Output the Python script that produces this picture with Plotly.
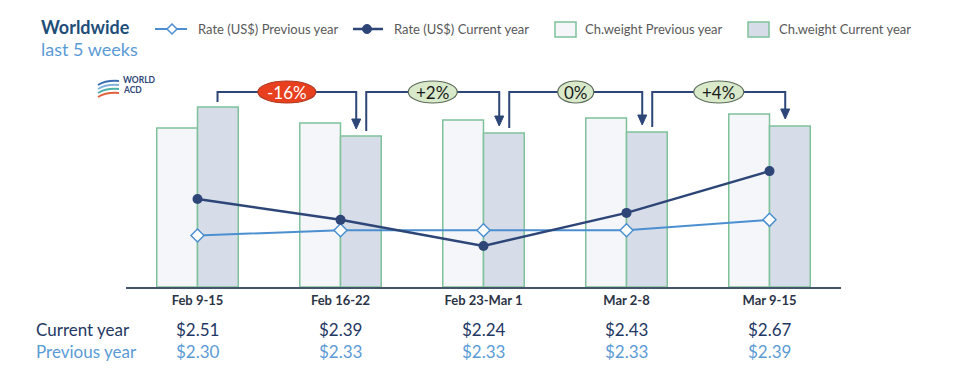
import plotly.graph_objects as go

# ---------------- data ----------------
weeks = ["Feb 9-15", "Feb 16-22", "Feb 23-Mar 1", "Mar 2-8", "Mar 9-15"]
weight_prev = [159, 164, 167, 169, 173]      # chargeable weight index, previous year
weight_cur = [180, 151, 154, 155, 161]       # chargeable weight index, current year
rate_cur = [2.51, 2.39, 2.24, 2.43, 2.67]    # US$ per kg, current year
rate_prev = [2.30, 2.33, 2.33, 2.33, 2.39]   # US$ per kg, previous year
wow_labels = ["-16%", "+2%", "0%", "+4%"]    # week-on-week change in ch.weight
series_names = ["Rate (US$) Previous year", "Rate (US$) Current year",
                "Ch.weight Previous year", "Ch.weight Current year"]

FONT = "Lato"
NAVY = "#2d4677"
LIGHTBLUE = "#4b8fd0"
GREEN_EDGE = "#7fc29a"
PREV_FILL = "#f4f6fa"
CUR_FILL = "#d6dde8"

OFF = 8                      # page body margin of the html page
W, H = 953 - OFF, 379 - OFF
X0, X1, Y0, Y1 = 126, 841, 70, 287   # plot area in screen pixels


def px(xp):
    return (xp - X0) / (X1 - X0)


def py(yp):
    return (Y1 - yp) / (Y1 - Y0)


xs = list(range(len(weeks)))

fig = go.Figure()

fig.add_trace(go.Scatter(
    x=xs, y=rate_prev, yaxis="y2", name=series_names[0],
    mode="lines+markers", line=dict(color=LIGHTBLUE, width=2),
    marker=dict(symbol="diamond", size=10, color="white",
                line=dict(color=LIGHTBLUE, width=1.5))))
fig.add_trace(go.Scatter(
    x=xs, y=rate_cur, yaxis="y2", name=series_names[1],
    mode="lines+markers", line=dict(color=NAVY, width=2.5),
    marker=dict(symbol="circle", size=10, color=NAVY)))
fig.add_trace(go.Bar(
    x=xs, y=weight_prev, name=series_names[2],
    marker=dict(color=PREV_FILL, line=dict(color=GREEN_EDGE, width=1.5))))
fig.add_trace(go.Bar(
    x=xs, y=weight_cur, name=series_names[3],
    marker=dict(color=CUR_FILL, line=dict(color=GREEN_EDGE, width=1.5))))

shapes = []
annotations = []

# ------------- week-on-week brackets -------------
level = max(weight_cur) + 15
ell_sizes = {"-16%": 58, "+2%": 49, "0%": 36, "+4%": 50}
for i, lab in enumerate(wow_labels):
    sx = i + (0.14 if i == 0 else 0.18)
    ex = i + 1 + 0.11
    sy = weight_cur[i] + 5
    tip = weight_cur[i + 1] + 7
    head = 10
    shapes.append(dict(
        type="path", xref="x", yref="y",
        path=f"M{sx},{sy} L{sx},{level} L{ex},{level} L{ex},{tip + head}",
        line=dict(color=NAVY, width=2)))
    hw = 4.5 / 143
    shapes.append(dict(
        type="path", xref="x", yref="y",
        path=f"M{ex - hw},{tip + head} L{ex + hw},{tip + head} L{ex},{tip} Z",
        fillcolor=NAVY, line=dict(color=NAVY, width=1)))
    cx = (sx + ex) / 2
    wpx = ell_sizes.get(lab, 8 + 12.5 * len(lab))
    neg = lab.startswith("-")
    shapes.append(dict(
        type="circle", xref="x", yref="y",
        x0=cx - wpx / 2 / 143, x1=cx + wpx / 2 / 143,
        y0=level - 11, y1=level + 11,
        fillcolor="#e8401e" if neg else "#d9eacb",
        line=dict(color="#b23a24" if neg else "#5b6b5a", width=1.2)))
    annotations.append(dict(
        x=cx, y=level, xref="x", yref="y", text=lab, showarrow=False,
        font=dict(family=FONT, size=17, color="white" if neg else "#1a1a1a")))

# ------------- title -------------
annotations.append(dict(
    x=px(39), y=py(27), xref="paper", yref="paper", xanchor="left", yanchor="middle",
    text="<b>Worldwide</b>", showarrow=False,
    font=dict(family=FONT, size=18, color="#1f4e79")))
annotations.append(dict(
    x=px(39), y=py(49), xref="paper", yref="paper", xanchor="left", yanchor="middle",
    text="last 5 weeks", showarrow=False,
    font=dict(family=FONT, size=18, color="#5b9bd5")))

# ------------- manual legend -------------
leg_y = 29
# line + open diamond
shapes.append(dict(type="line", xref="paper", yref="paper",
                   x0=px(155), x1=px(187), y0=py(leg_y), y1=py(leg_y),
                   line=dict(color=LIGHTBLUE, width=2)))
d = 5
dc = 172
shapes.append(dict(type="path", xref="paper", yref="paper",
                   path=(f"M{px(dc - d)},{py(leg_y)} L{px(dc)},{py(leg_y - d)} "
                         f"L{px(dc + d)},{py(leg_y)} L{px(dc)},{py(leg_y + d)} Z"),
                   fillcolor="white", line=dict(color=LIGHTBLUE, width=1.5)))
# line + filled circle
shapes.append(dict(type="line", xref="paper", yref="paper",
                   x0=px(353), x1=px(383), y0=py(leg_y), y1=py(leg_y),
                   line=dict(color=NAVY, width=2.5)))
shapes.append(dict(type="circle", xref="paper", yref="paper",
                   x0=px(362.5), x1=px(371.5), y0=py(leg_y + 4.5), y1=py(leg_y - 4.5),
                   fillcolor=NAVY, line=dict(color=NAVY, width=1)))
# boxes
for bx, fill in [(555, PREV_FILL), (748, CUR_FILL)]:
    shapes.append(dict(type="rect", xref="paper", yref="paper",
                       x0=px(bx), x1=px(bx + 21), y0=py(leg_y + 8), y1=py(leg_y - 7),
                       fillcolor=fill, line=dict(color=GREEN_EDGE, width=1.5)))
for tx, name in zip([196, 392, 583, 777], series_names):
    annotations.append(dict(
        x=px(tx), y=py(leg_y), xref="paper", yref="paper", xanchor="left",
        yanchor="middle", text=name, showarrow=False,
        font=dict(family=FONT, size=13, color="#595959")))

# ------------- logo -------------
logo_cols = ["#3a6fb5", "#7fb2de", "#4fb0a8", "#e0623d"]
for k, c in enumerate(logo_cols):
    yb = 81 + k * 4
    p0 = (px(98), py(yb + 4))
    p1 = (px(106), py(yb - 1))
    p2 = (px(119), py(yb))
    shapes.append(dict(
        type="path", xref="paper", yref="paper",
        path=f"M{p0[0]},{p0[1]} Q{p1[0]},{p1[1]} {p2[0]},{p2[1]}",
        line=dict(color=c, width=2)))
annotations.append(dict(
    x=px(121), y=py(80.5), xref="paper", yref="paper", xanchor="left", yanchor="middle",
    text="<b>WORLD</b>", showarrow=False, font=dict(family=FONT, size=8.5, color=NAVY)))
annotations.append(dict(
    x=px(121), y=py(90), xref="paper", yref="paper", xanchor="left", yanchor="middle",
    text="<b>ACD</b>", showarrow=False, font=dict(family=FONT, size=8.5, color=NAVY)))

# ------------- value table under the axis -------------
annotations.append(dict(
    x=px(34), y=py(329), xref="paper", yref="paper", xanchor="left", yanchor="middle",
    text="Current year", showarrow=False, font=dict(family=FONT, size=17, color="#1f3864")))
annotations.append(dict(
    x=px(34), y=py(351), xref="paper", yref="paper", xanchor="left", yanchor="middle",
    text="Previous year", showarrow=False, font=dict(family=FONT, size=17, color="#5b9bd5")))
for i in xs:
    annotations.append(dict(
        x=i, y=py(329), xref="x", yref="paper", yanchor="middle",
        text=f"${rate_cur[i]:.2f}", showarrow=False,
        font=dict(family=FONT, size=17, color="#1f3864")))
    annotations.append(dict(
        x=i, y=py(351), xref="x", yref="paper", yanchor="middle",
        text=f"${rate_prev[i]:.2f}", showarrow=False,
        font=dict(family=FONT, size=17, color="#5b9bd5")))

ppu2 = 174.0
fig.update_layout(
    width=W, height=H,
    margin=dict(l=X0 - OFF, r=W - (X1 - OFF), t=Y0 - OFF, b=H - (Y1 - OFF), pad=0),
    paper_bgcolor="white", plot_bgcolor="white",
    barmode="group", bargap=0.43, bargroupgap=0,
    font=dict(family=FONT),
    xaxis=dict(range=[-0.5, 4.5], tickvals=xs, ticktext=weeks,
               showgrid=False, zeroline=False, showline=True,
               linecolor="#44546a", linewidth=2, ticks="",
               tickfont=dict(family=FONT, size=13, color="#2b3446", weight="bold")),
    yaxis=dict(range=[0, Y1 - Y0], visible=False, showgrid=False, zeroline=False),
    yaxis2=dict(range=[2.004, 2.004 + (Y1 - Y0) / ppu2], overlaying="y",
                visible=False, showgrid=False, zeroline=False),
    showlegend=False,
    shapes=shapes, annotations=annotations,
)

fig.write_html("out.html")
